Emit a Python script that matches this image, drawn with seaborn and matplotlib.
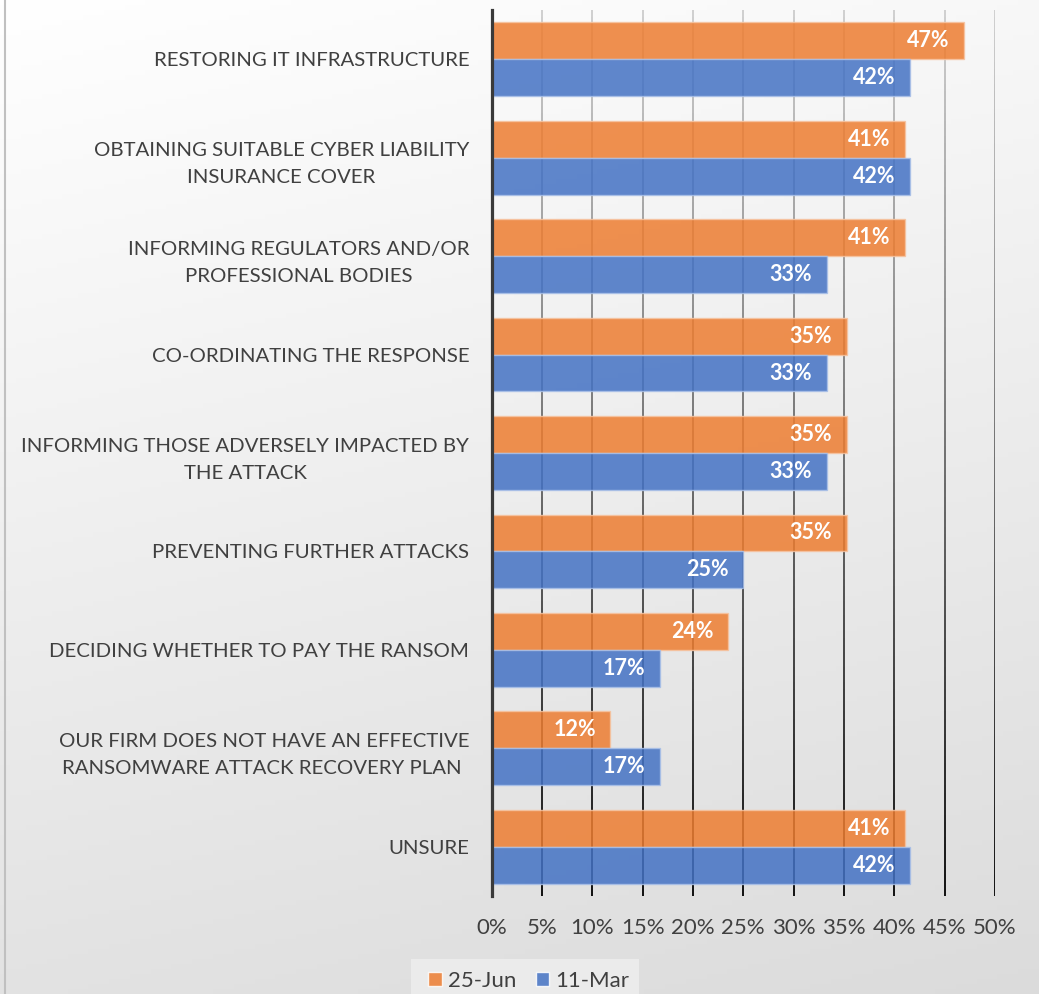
import numpy as np
import pandas as pd
import matplotlib
matplotlib.use("Agg")
import matplotlib.pyplot as plt
import seaborn as sns
from matplotlib.collections import LineCollection
from matplotlib.lines import Line2D
from matplotlib.patches import Rectangle

# ---------------- data ----------------
categories = [
    "RESTORING IT INFRASTRUCTURE",
    "OBTAINING SUITABLE CYBER LIABILITY\nINSURANCE COVER",
    "INFORMING REGULATORS AND/OR\nPROFESSIONAL BODIES",
    "CO-ORDINATING THE RESPONSE",
    "INFORMING THOSE ADVERSELY IMPACTED BY\nTHE ATTACK",
    "PREVENTING FURTHER ATTACKS",
    "DECIDING WHETHER TO PAY THE RANSOM",
    "OUR FIRM DOES NOT HAVE AN EFFECTIVE\nRANSOMWARE ATTACK RECOVERY PLAN ",
    "UNSURE",
]
jun_25 = [46.9, 41.1, 41.1, 35.3, 35.3, 35.3, 23.5, 11.8, 41.1]
mar_11 = [41.6, 41.6, 33.3, 33.3, 33.3, 25.0, 16.7, 16.7, 41.6]
series_names = ["25-Jun", "11-Mar"]
x_ticks = [0, 5, 10, 15, 20, 25, 30, 35, 40, 45, 50]

df = pd.DataFrame({
    "category": categories * 2,
    "value": jun_25 + mar_11,
    "series": [series_names[0]] * len(categories) + [series_names[1]] * len(categories),
})

# ---------------- style ----------------
sns.set_theme(style="white")
plt.rcParams["font.family"] = ["Lato", "DejaVu Sans"]
text_col = "#404040"
orange = "#ED7D31"
blue = "#4472C4"

W, H = 1039, 994
fig = plt.figure(figsize=(W / 100, H / 100), dpi=100)

# background gradient, white top-left to light grey bottom-right
bg = fig.add_axes([0, 0, 1, 1], zorder=-10)
yy, xx = np.mgrid[0:1:200j, 0:1:200j]
shade = 1 - 0.14 * (0.8 * yy + 0.2 * xx)
bg.imshow(np.dstack([shade, shade, shade]), aspect="auto", extent=[0, 1, 1, 0])
bg.set_axis_off()

ax = fig.add_axes([491.5 / W, 1 - 896 / H, (995 - 491.5) / W, (896 - 10) / H])
ax.patch.set_alpha(0)

# gridlines fade from light grey at the top to black at the bottom
n_seg = 120
ys = np.linspace(-0.5, len(categories) - 0.5, n_seg + 1)
segs, cols = [], []
for t in x_ticks[1:]:
    for i in range(n_seg):
        segs.append([(t, ys[i]), (t, ys[i + 1])])
        g = 0.80 * (1 - i / (n_seg - 1))
        cols.append((g, g, g))
ax.add_collection(LineCollection(segs, colors=cols, linewidths=1.3, zorder=0.5))

sns.barplot(
    data=df, y="category", x="value", hue="series", orient="h",
    palette=[orange, blue], width=0.75, ax=ax, alpha=0.85,
    saturation=1, legend=True, zorder=2,
)

# bar outlines and value labels
edge_cols = ["#F6C3A0", "#A9C0E8"]
for k, cont in enumerate(ax.containers):
    for p in cont.patches:
        p.set_edgecolor(edge_cols[k])
        p.set_linewidth(1.0)
        w = p.get_width()
        ax.annotate(f"{w:.0f}%", (w, p.get_y() + p.get_height() / 2),
                    xytext=(-10.5, 0), textcoords="offset points",
                    ha="right", va="center", color="white",
                    fontsize=15.5, fontweight="bold", zorder=5)

ax.set_xlim(0, 50)
ax.set_ylim(len(categories) - 0.5, -0.5)
ax.set_xticks(x_ticks)
ax.set_xticklabels([f"{t}%" for t in x_ticks])
ax.set_xlabel("")
ax.set_ylabel("")
ax.tick_params(axis="x", length=0, pad=16, labelsize=16, labelcolor=text_col)
ax.tick_params(axis="y", length=0, pad=16, labelsize=14.7, labelcolor=text_col)
for lbl in ax.get_yticklabels():
    lbl.set_multialignment("center")
    lbl.set_linespacing(1.72)

for s in ["top", "right", "bottom"]:
    ax.spines[s].set_visible(False)
ax.spines["left"].set_color("#3a3a3a")
ax.spines["left"].set_linewidth(2.3)
ax.spines["left"].set_zorder(6)

# legend box (cut off at the bottom edge, as in the original)
fig.add_artist(Rectangle((411 / W, 0), (639 - 411) / W, 1 - 959 / H,
                         transform=fig.transFigure, facecolor="#ebebeb",
                         edgecolor="none", zorder=1))
handles, labels = ax.get_legend_handles_labels()
ax.get_legend().remove()
leg = fig.legend(handles, labels, loc="center", bbox_to_anchor=(529 / W, 1 - 981 / H),
                 ncol=2, frameon=False, fontsize=16, handlelength=0.6, handleheight=0.6,
                 handletextpad=0.3, columnspacing=0.85, borderpad=0.2)
leg.set_zorder(2)
for t in leg.get_texts():
    t.set_color(text_col)

# left border of the chart frame
fig.add_artist(Line2D([5 / W, 5 / W], [0, 1], color="#c0c0c0", linewidth=1.5))

fig.savefig("out.png", dpi=100)
